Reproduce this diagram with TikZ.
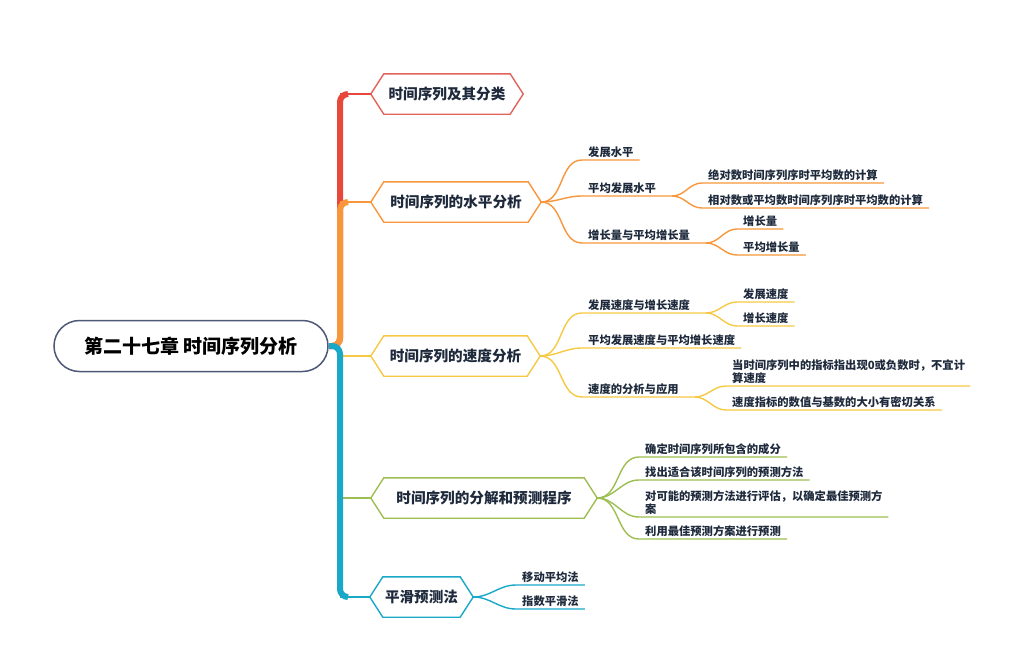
\documentclass[tikz,border=0pt]{standalone}
\usepackage{fontspec}
\setmainfont{Noto Sans CJK SC}
\usepackage{tikz}
\usetikzlibrary{calc}

\definecolor{cred}{HTML}{E8473B}
\definecolor{credl}{HTML}{E2625C}
\definecolor{corange}{HTML}{F7963A}
\definecolor{cyellow}{HTML}{F6C944}
\definecolor{cgreen}{HTML}{9DBE52}
\definecolor{ccyan}{HTML}{1AA8C9}
\definecolor{croot}{HTML}{4E5877}
\definecolor{ctext}{HTML}{1E2A3C}

\tikzset{
  branch/.style={minimum height=40, inner sep=0, font=\fontsize{14.6}{17}\selectfont\bfseries, text=ctext},
  leaf/.style={anchor=south west, inner xsep=6, inner ysep=2.5, font=\fontsize{11.3}{13}\selectfont\bfseries, text=ctext, align=left},
  twig/.style={line width=1.4},
  spine/.style={line width=6, rounded corners=8},
}

\begin{document}
\begin{tikzpicture}[x=1pt,y=-1pt]
            \useasboundingbox (0,0) rectangle (1011,651);
            % root and main branches
            \node[draw=croot, line width=1.5, rounded corners=25.5, minimum width=274, minimum height=51,
                  font=\fontsize{19}{22}\selectfont\bfseries, text=black] (root) at (191,346) {第二十七章 时间序列分析};
            \coordinate (hub) at (340,346);
            \node[branch, minimum width=152] (b1) at (447,94) {时间序列及其分类};
            \node[branch, minimum width=170] (b2) at (456,202) {时间序列的水平分析};
            \node[branch, minimum width=169] (b3) at (455.5,356) {时间序列的速度分析};
            \node[branch, minimum width=226] (b4) at (484,498) {时间序列的分解和预测程序};
            \node[branch, minimum width=103] (b5) at (421.5,597) {平滑预测法};
            \foreach \n/\c in {b1/credl,b2/corange,b3/cyellow,b4/cgreen,b5/ccyan}
              \draw[\c, line width=1.4] ([xshift=13]\n.north west) -- ([xshift=-13]\n.north east) -- (\n.east)
                -- ([xshift=-13]\n.south east) -- ([xshift=13]\n.south west) -- (\n.west) -- cycle;
            % trunk
            \draw[spine, cred] (root.east) -- (hub) |- ($(hub|-b1.west)+(8,0)$);
            \draw[line width=2, cred] (hub|-b1.west) -- (b1.west);
            \draw[spine, corange] (root.east) -- (hub) |- ($(hub|-b2.west)+(8,0)$);
            \draw[line width=2, corange] (hub|-b2.west) -- (b2.west);
            \draw[line width=2, cyellow] (hub|-b3.west) -- (b3.west);
            \draw[line width=2, cgreen] (hub|-b4.west) -- (b4.west);
            \draw[line width=2, ccyan] (hub|-b5.west) -- (b5.west);
            \draw[spine, ccyan] (root.east) -- (hub) |- ($(hub|-b5.west)+(8,0)$);
            % leaves of b2
            \node[leaf] (l21) at (582,160) {发展水平};
            \node[leaf] (l22) at (582,196) {平均发展水平};
            \node[leaf] (l221) at (702,183) {绝对数时间序列序时平均数的计算};
            \node[leaf] (l222) at (702,208) {相对数或平均数时间序列序时平均数的计算};
            \node[leaf] (l23) at (582,243) {增长量与平均增长量};
            \node[leaf] (l231) at (737,229) {增长量};
            \node[leaf] (l232) at (737,255) {平均增长量};
            \draw[twig, corange] (b2.east) to[out=0,in=180] (l21.south west) -- (l21.south east);
            \draw[twig, corange] (b2.east) to[out=0,in=180] (l22.south west) -- ([xshift=10]l22.south east) coordinate (l22e);
            \draw[twig, corange] (b2.east) to[out=0,in=180] (l23.south west) -- ([xshift=10]l23.south east) coordinate (l23e);
            \draw[twig, corange] (l22e) to[out=0,in=180] (l221.south west) -- (l221.south east);
            \draw[twig, corange] (l22e) to[out=0,in=180] (l222.south west) -- (l222.south east);
            \draw[twig, corange] (l23e) to[out=0,in=180] (l231.south west) -- (l231.south east);
            \draw[twig, corange] (l23e) to[out=0,in=180] (l232.south west) -- (l232.south east);
            % leaves of b3
            \node[leaf] (l31) at (582,313) {发展速度与增长速度};
            \node[leaf] (l311) at (737,302) {发展速度};
            \node[leaf] (l312) at (737,326) {增长速度};
            \node[leaf] (l32) at (582,348) {平均发展速度与平均增长速度};
            \node[leaf] (l33) at (582,397) {速度的分析与应用};
            \node[leaf, text width=232] (l331) at (726,386) {当时间序列中的指标指出现0或负数时，不宜计\\算速度};
            \node[leaf] (l332) at (726,410) {速度指标的数值与基数的大小有密切关系};
            \draw[twig, cyellow] (b3.east) to[out=0,in=180] (l31.south west) -- ([xshift=10]l31.south east) coordinate (l31e);
            \draw[twig, cyellow] (b3.east) to[out=0,in=180] (l32.south west) -- (l32.south east);
            \draw[twig, cyellow] (b3.east) to[out=0,in=180] (l33.south west) -- ([xshift=10]l33.south east) coordinate (l33e);
            \draw[twig, cyellow] (l31e) to[out=0,in=180] (l311.south west) -- (l311.south east);
            \draw[twig, cyellow] (l31e) to[out=0,in=180] (l312.south west) -- (l312.south east);
            \draw[twig, cyellow] (l33e) to[out=0,in=180] (l331.south west) -- (l331.south east);
            \draw[twig, cyellow] (l33e) to[out=0,in=180] (l332.south west) -- (l332.south east);
            % leaves of b4
            \node[leaf] (l41) at (639,457) {确定时间序列所包含的成分};
            \node[leaf] (l42) at (639,480) {找出适合该时间序列的预测方法};
            \node[leaf, text width=237] (l43) at (639,517) {对可能的预测方法进行评估，以确定最佳预测方\\案};
            \node[leaf] (l44) at (639,539) {利用最佳预测方案进行预测};
            \foreach \n in {l41,l42,l43,l44}
              \draw[twig, cgreen] (b4.east) to[out=0,in=180] (\n.south west) -- (\n.south east);
            % leaves of b5
            \node[leaf] (l51) at (516,585) {移动平均法};
            \node[leaf] (l52) at (516,609) {指数平滑法};
            \foreach \n in {l51,l52}
              \draw[twig, ccyan] (b5.east) to[out=0,in=180] (\n.south west) -- (\n.south east);
\end{tikzpicture}
\end{document}
